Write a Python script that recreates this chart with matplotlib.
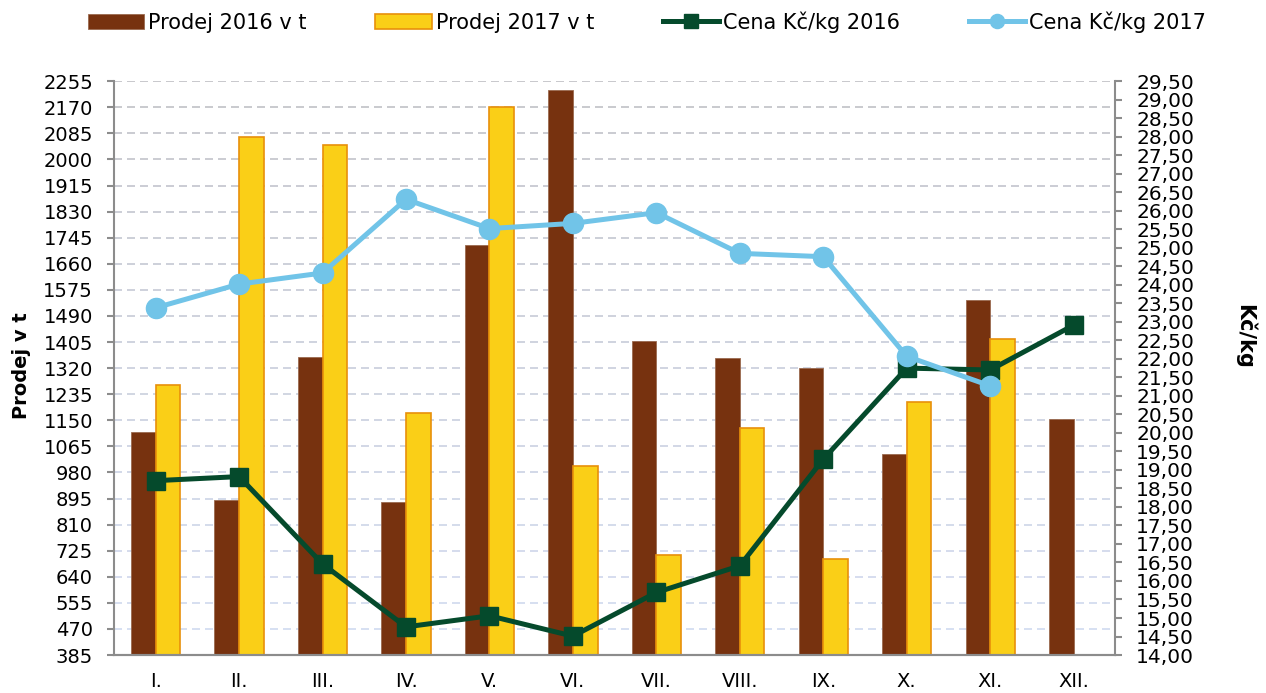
import numpy as np
import matplotlib
matplotlib.use("Agg")
import matplotlib.pyplot as plt
from matplotlib.ticker import FuncFormatter

plt.rcParams['font.family'] = ['DejaVu Sans']

# Data
months = ["I.", "II.", "III.", "IV.", "V.", "VI.", "VII.", "VIII.", "IX.", "X.", "XI.", "XII."]
prodej_2016 = [1111, 890, 1356, 883, 1721, 2226, 1408, 1353, 1320, 1040, 1542, 1154]
prodej_2017 = [1265, 2072, 2046, 1173, 2170, 1000, 712, 1125, 698, 1211, 1414, np.nan]
cena_2016 = [18.71, 18.82, 16.46, 14.76, 15.06, 14.51, 15.69, 16.41, 19.29, 21.75, 21.70, 22.91]
cena_2017 = [23.38, 24.02, 24.32, 26.31, 25.52, 25.66, 25.95, 24.85, 24.76, 22.07, 21.27, np.nan]

left_ticks = list(range(385, 2256, 85))
right_ticks = list(np.arange(14.0, 29.51, 0.5))

c_brown = '#77320F'
c_yellow = '#FACF17'
c_yellow_edge = '#E8900A'
c_green = '#054A2C'
c_blue = '#71C4E8'
c_axis = '#8C8C8C'

fig = plt.figure(figsize=(12.66, 6.93), dpi=100)
ax = fig.add_axes([0.090, 0.0548, 0.791, 0.828])
ax2 = ax.twinx()

x = np.arange(len(months))
w = 0.295
ax.bar(x - w / 2, prodej_2016, width=w, color=c_brown, edgecolor='#9a6a50', linewidth=0.6,
       label='Prodej 2016 v t', zorder=2)
ax.bar(x + w / 2, prodej_2017, width=w, color=c_yellow, edgecolor=c_yellow_edge, linewidth=1.2,
       label='Prodej 2017 v t', zorder=2)

ax2.plot(x, cena_2016, color=c_green, lw=3.6, marker='s', markersize=13.5,
         label='Cena Kč/kg 2016', zorder=3)
ax2.plot(x, cena_2017, color=c_blue, lw=3.6, marker='o', markersize=14.5,
         label='Cena Kč/kg 2017', zorder=3)

ax.set_xlim(-0.5, len(months) - 0.5)
ax.set_ylim(385, 2255)
ax2.set_ylim(14.0, 29.5)

ax.set_xticks(x)
ax.set_xticklabels(months, fontsize=14)
ax.tick_params(axis='x', length=0, pad=12)
ax.set_yticks(left_ticks)
ax.tick_params(axis='y', labelsize=14, color=c_axis, length=5, width=1.5, pad=10)
ax2.set_yticks(right_ticks)
ax2.yaxis.set_major_formatter(FuncFormatter(lambda v, p: f"{v:.2f}".replace('.', ',')))
ax2.tick_params(axis='y', labelsize=14.5, color=c_axis, length=5, width=1.5, pad=10)

# dashed grid, grey at the top fading to light blue at the bottom
ax.grid(axis='y', linestyle=(0, (4.8, 3)), linewidth=1.2, zorder=0)
ax.set_axisbelow(True)
top_c = np.array([0.75, 0.75, 0.77])
bot_c = np.array([0.82, 0.86, 0.95])
gls = ax.get_ygridlines()
for i, gl in enumerate(gls):
    t = i / (len(gls) - 1)
    gl.set_color(tuple(bot_c * (1 - t) + top_c * t))

for a in (ax, ax2):
    a.spines['top'].set_visible(False)
    for s in ('left', 'right', 'bottom'):
        a.spines[s].set_color(c_axis)
        a.spines[s].set_linewidth(1.5)
ax.spines['right'].set_visible(False)
ax2.spines['left'].set_visible(False)

fig.text(22 / 1266, 0.472, 'Prodej v t', fontsize=14, fontweight='bold',
         rotation=90, ha='center', va='center')
fig.text(1245 / 1266, 0.514, 'Kč/kg', fontsize=15, fontweight='bold',
         rotation=-90, ha='center', va='center')

h1, l1 = ax.get_legend_handles_labels()
h2, l2 = ax2.get_legend_handles_labels()
fig.legend(h1 + h2, l1 + l2, loc='center', bbox_to_anchor=(0.511, 1 - 22 / 693), ncol=4,
           frameon=False, fontsize=15, handlelength=2.7, handletextpad=0.2,
           columnspacing=3.3, markerscale=0.7, borderpad=0)

fig.savefig('out.png', dpi=100)
